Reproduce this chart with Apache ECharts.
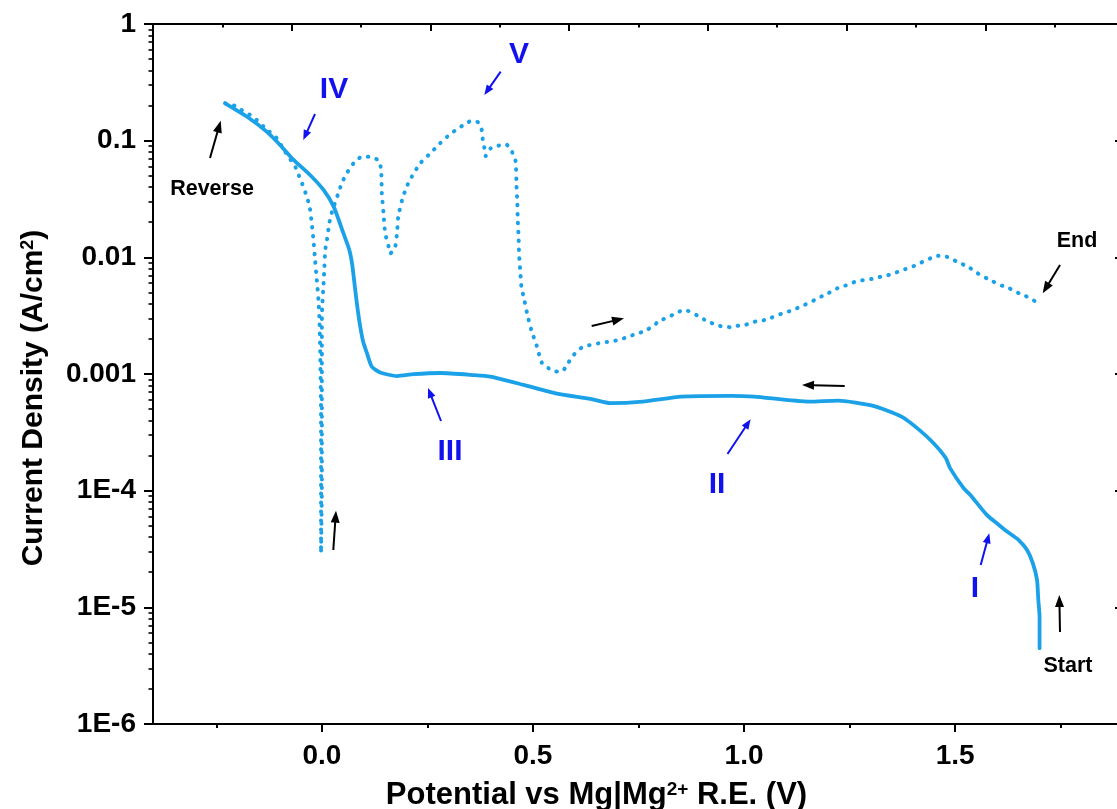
<!DOCTYPE html>
<html><head><meta charset="utf-8">
<script src="https://cdn.jsdelivr.net/npm/echarts@6/dist/echarts.min.js"></script>
<style>html,body{margin:0;padding:0;background:#fff}#c{width:1117px;height:809px}</style>
</head><body><div id="c"></div>
<script>
// ---- data ----
const solidPotential = [1.700,1.700,1.697,1.694,1.684,1.670,1.650,1.623,1.603,1.575,1.536,1.520,1.488,1.478,1.449,1.415,1.373,1.306,1.222,1.154,1.024,0.969,0.852,0.760,0.684,0.636,0.557,0.478,0.399,0.359,0.280,0.217,0.178,0.138,0.118,0.107,0.098,0.091,0.085,0.079,0.072,0.065,0.051,0.028,0.004,-0.028,-0.067,-0.099,-0.130,-0.178,-0.229];
const solidCurrent = [4.47e-6,8.3e-6,1.16e-5,1.72e-5,2.39e-5,3.11e-5,3.79e-5,4.46e-5,5.1e-5,6.2e-5,9.2e-5,1.05e-4,1.56e-4,1.9e-4,2.55e-4,3.32e-4,4.31e-4,5.33e-4,5.92e-4,5.8e-4,6.4e-4,6.5e-4,6.4e-4,5.8e-4,5.62e-4,6.12e-4,6.8e-4,8.07e-4,9.5e-4,9.8e-4,1.02e-3,9.96e-4,9.6e-4,1.03e-3,1.16e-3,1.5e-3,1.88e-3,2.53e-3,3.54e-3,5.26e-3,8.61e-3,0.01157,0.0161,0.0272,0.0378,0.0508,0.0684,0.0919,0.119,0.161,0.209];

const dottedPotential = [-0.229,-0.205,-0.190,-0.170,-0.154,-0.138,-0.124,-0.107,-0.087,-0.075,-0.063,-0.055,-0.047,-0.037,-0.029,-0.024,-0.020,-0.016,-0.012,-0.008,-0.006,-0.004,-0.002,-0.002,-0.002,0.000,0.000,0.000,0.000,0.004,0.006,0.008,0.012,0.016,0.020,0.028,0.039,0.047,0.059,0.075,0.095,0.114,0.133,0.138,0.141,0.142,0.146,0.150,0.158,0.162,0.169,0.174,0.178,0.181,0.190,0.201,0.213,0.233,0.257,0.280,0.304,0.320,0.335,0.355,0.371,0.379,0.381,0.385,0.388,0.400,0.418,0.436,0.450,0.458,0.460,0.461,0.463,0.464,0.466,0.467,0.470,0.473,0.478,0.486,0.496,0.509,0.521,0.537,0.553,0.570,0.583,0.595,0.607,0.620,0.638,0.655,0.675,0.695,0.715,0.734,0.753,0.772,0.787,0.794,0.806,0.818,0.837,0.856,0.873,0.890,0.907,0.928,0.949,0.968,0.982,1.002,1.023,1.041,1.062,1.079,1.097,1.117,1.136,1.153,1.170,1.186,1.207,1.226,1.245,1.264,1.285,1.303,1.332,1.353,1.370,1.382,1.403,1.424,1.442,1.460,1.480,1.496,1.516,1.534,1.551,1.567,1.587,1.605,1.624,1.642,1.662,1.680,1.697];
const dottedCurrent = [0.209,0.198,0.183,0.166,0.150,0.132,0.119,0.105,0.0804,0.0693,0.0599,0.0508,0.0431,0.0342,0.0272,0.0196,0.0141,0.0095,0.0064,0.00431,0.0031,0.00161,4.32e-4,1.16e-4,2.91e-5,1.16e-4,4.32e-4,1.61e-3,3.1e-3,0.0060,0.0083,0.0116,0.0141,0.0179,0.0218,0.0272,0.0354,0.0431,0.0526,0.0640,0.0729,0.0729,0.0683,0.0640,0.0508,0.0354,0.0239,0.0161,0.0124,0.0108,0.0114,0.0124,0.0161,0.0223,0.0310,0.0404,0.0491,0.064,0.078,0.095,0.114,0.125,0.136,0.148,0.143,0.122,0.103,0.0861,0.0739,0.0861,0.0906,0.0932,0.0805,0.0693,0.058,0.0417,0.0294,0.0209,0.0149,0.0107,0.0076,0.00543,0.0046,0.00332,0.00239,0.00174,0.00125,0.00112,0.00105,0.00106,0.00124,0.00143,0.00161,0.00171,0.00178,0.00183,0.00188,0.00193,0.00202,0.00214,0.00225,0.00242,0.00258,0.00277,0.00291,0.00307,0.00327,0.00354,0.00342,0.00316,0.00291,0.00269,0.00255,0.00252,0.00258,0.00263,0.0028,0.00285,0.00301,0.00319,0.00336,0.00354,0.00383,0.00404,0.00437,0.00467,0.00508,0.00554,0.0058,0.00619,0.0064,0.00653,0.00693,0.0072,0.00769,0.00791,0.00844,0.00919,0.00982,0.0103,0.0101,0.0095,0.00878,0.00816,0.00739,0.00683,0.00628,0.0058,0.00554,0.00508,0.00476,0.0044,0.00404];

const xTickValues = [0, 0.5, 1.0, 1.5];
const xTickLabels = ['0.0', '0.5', '1.0', '1.5'];
const xMinorTickValues = [-0.25, 0.25, 0.75, 1.25, 1.75];
const yTickExponents = [-6, -5, -4, -3, -2, -1, 0];
const yTickLabels = ['1E-6', '1E-5', '1E-4', '0.001', '0.01', '0.1', '1'];
const yMinorMantissas = [2, 3, 4, 5, 6, 7, 8, 9];

const blackNotes = ['Reverse', 'Start', 'End'];
const blueNotes = ['I', 'II', 'III', 'IV', 'V'];

// ---- build ----
const zip = (a, b) => a.map((v, i) => [v, b[i]]);
const yMinorLog = [];
yTickExponents.slice(0, -1).forEach(e => yMinorMantissas.forEach(m => yMinorLog.push(Math.log10(m) + e)));

const FONT = '"Liberation Sans", Arial, Helvetica, sans-serif';
const LINE = '#1ba1e8';
const BLUE = '#1212ee';

function arrow(x1, y1, x2, y2, color, w, hl, hw) {
  const dx = x2 - x1, dy = y2 - y1, L = Math.hypot(dx, dy), ux = dx / L, uy = dy / L;
  const bx = x2 - ux * hl, by = y2 - uy * hl, px = -uy, py = ux;
  return [
    {type: 'line', silent: true, shape: {x1: x1, y1: y1, x2: bx + ux * 1, y2: by + uy * 1}, style: {stroke: color, lineWidth: w}},
    {type: 'polygon', silent: true, shape: {points: [[x2, y2], [bx + px * hw, by + py * hw], [bx - px * hw, by - py * hw]]}, style: {fill: color}}
  ];
}
function txt(s, x, y, color, size) {
  return {type: 'text', silent: true, x: x, y: y, style: {text: s, fill: color, font: 'bold ' + size + 'px ' + FONT, align: 'center', verticalAlign: 'middle'}};
}

const graphics = [].concat(
  txt(blackNotes[0], 212, 189, '#000', 21.5),
  txt(blackNotes[1], 1068, 666, '#000', 21.5),
  txt(blackNotes[2], 1077, 241, '#000', 21.5),
  txt(blueNotes[0], 975, 589, BLUE, 30),
  txt(blueNotes[1], 717, 485, BLUE, 30),
  txt(blueNotes[2], 450, 452, BLUE, 30),
  txt(blueNotes[3], 334, 90, BLUE, 30),
  txt(blueNotes[4], 519, 55, BLUE, 30),
  arrow(210, 158, 220.7, 120.7, '#000', 2, 12, 4.5),
  arrow(1060, 632, 1059.3, 595, '#000', 2, 12, 4.5),
  arrow(1060, 265, 1042.7, 293.3, '#000', 2, 12, 4.5),
  arrow(844.7, 386, 802, 385, '#000', 2, 12, 4.5),
  arrow(591.7, 326, 624, 318.3, '#000', 2, 12, 4.5),
  arrow(333.3, 550, 336, 510.7, '#000', 2, 12, 4.5),
  arrow(315, 114, 303.3, 140, BLUE, 2, 10, 4),
  arrow(500.7, 71.7, 484.3, 95, BLUE, 2, 10, 4),
  arrow(441, 421, 428, 388, BLUE, 2, 10, 4),
  arrow(727.5, 454, 750.6, 419.3, BLUE, 2, 10, 4),
  arrow(980.7, 565, 989.3, 533.3, BLUE, 2, 10, 4)
);

const axisLine = {show: true, onZero: false, lineStyle: {color: '#000', width: 2}};

const chart = echarts.init(document.getElementById('c'), null, {renderer: 'canvas'});
chart.setOption({
  animation: false,
  backgroundColor: '#fff',
  grid: {left: 153, top: 24, right: -7, bottom: 85, outerBoundsMode: 'none', containLabel: false},
  xAxis: [
    {
      type: 'value', min: -0.4, max: 1.9, position: 'bottom',
      axisLine: axisLine,
      axisTick: {show: true, inside: false, length: 8, customValues: xTickValues, lineStyle: {color: '#000', width: 2}},
      axisLabel: {show: true, customValues: xTickValues, margin: 18, color: '#000', fontFamily: FONT, fontWeight: 'bold', fontSize: 28,
        formatter: v => xTickLabels[xTickValues.findIndex(t => Math.abs(t - v) < 1e-9)]},
      splitLine: {show: false},
      name: 'Potential vs Mg|Mg{sup|2+} R.E. (V)', nameLocation: 'middle', nameGap: 56,
      nameTextStyle: {color: '#000', fontFamily: FONT, fontWeight: 'bold', fontSize: 31, padding: [0, 84, 0, 0],
        rich: {sup: {fontFamily: FONT, fontWeight: 'bold', fontSize: 19, verticalAlign: 'top', color: '#000'}}}
    },
    {
      type: 'value', min: 0, max: 7, interval: 1, position: 'top',
      axisLine: axisLine,
      axisTick: {show: true, inside: true, length: 7, lineStyle: {color: '#000', width: 2}},
      minorTick: {show: true, splitNumber: 2, length: 3.5, lineStyle: {color: '#000', width: 2}},
      axisLabel: {show: false}, splitLine: {show: false}
    },
    {
      type: 'value', min: -0.4, max: 1.9, position: 'bottom',
      axisLine: {show: false, onZero: false},
      axisTick: {show: true, inside: false, length: 4, customValues: xMinorTickValues, lineStyle: {color: '#000', width: 2}},
      axisLabel: {show: false}, splitLine: {show: false}
    }
  ],
  yAxis: [
    {
      type: 'log', logBase: 10, min: 1e-6, max: 1, position: 'left', splitNumber: 6,
      axisLine: axisLine,
      axisTick: {show: true, inside: false, length: 9, lineStyle: {color: '#000', width: 2}},
      axisLabel: {show: true, margin: 17, color: '#000', fontFamily: FONT, fontWeight: 'bold', fontSize: 28,
        formatter: v => yTickLabels[yTickExponents.indexOf(Math.round(Math.log10(v)))]},
      splitLine: {show: false}, minorTick: {show: false},
      name: 'Current Density (A/cm{sup|2})', nameLocation: 'middle', nameGap: 104,
      nameTextStyle: {color: '#000', fontFamily: FONT, fontWeight: 'bold', fontSize: 30, padding: [0, 48, 0, 0],
        rich: {sup: {fontFamily: FONT, fontWeight: 'bold', fontSize: 18, verticalAlign: 'top', color: '#000'}}}
    },
    {
      type: 'value', min: -6, max: 0, position: 'left',
      axisLine: {show: false, onZero: false},
      axisTick: {show: true, inside: false, length: 4.5, customValues: yMinorLog, lineStyle: {color: '#000', width: 1.6}},
      axisLabel: {show: false}, splitLine: {show: false}
    },
    {
      type: 'log', logBase: 10, min: 1e-6, max: 1, position: 'right', splitNumber: 6,
      axisLine: axisLine,
      axisTick: {show: true, inside: true, length: 9, lineStyle: {color: '#000', width: 2}},
      axisLabel: {show: false}, splitLine: {show: false}
    }
  ],
  series: [
    {
      name: 'Forward scan', type: 'line', xAxisIndex: 0, yAxisIndex: 0,
      data: zip(solidPotential, solidCurrent), showSymbol: false, symbol: 'none', smooth: 0.2, silent: true,
      lineStyle: {color: LINE, width: 3.8, join: 'round', cap: 'round'}, z: 3
    },
    {
      name: 'Reverse scan', type: 'line', xAxisIndex: 0, yAxisIndex: 0,
      data: zip(dottedPotential, dottedCurrent), showSymbol: false, symbol: 'none', smooth: 0.2, silent: true,
      lineStyle: {color: LINE, width: 4, type: [0.5, 8.4], cap: 'round', join: 'round'}, z: 2
    }
  ],
  graphic: {elements: graphics}
});
</script>
</body></html>
